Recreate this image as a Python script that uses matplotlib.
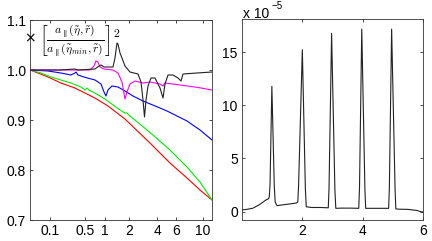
import numpy as np
import matplotlib
matplotlib.use("Agg")
import matplotlib.pyplot as plt

plt.rcParams['font.family'] = ['Liberation Sans', 'DejaVu Sans']
plt.rcParams['mathtext.fontset'] = 'cm'

# ---------------- left panel data ----------------
black_x = [0.027, 0.171, 0.337, 0.381, 0.718, 0.823, 0.879, 0.969, 1.279, 1.357, 1.439, 1.481, 1.568,
           1.659, 1.803, 2.062, 2.536, 2.733, 2.870, 2.977, 3.086, 3.237, 3.473, 3.807, 4.258, 4.548,
           4.749, 5.063, 5.620, 6.223, 6.606, 6.871, 8.962, 11.69]
black_y = [1.000, 1.000, 1.002, 1.000, 1.002, 1.008, 1.010, 1.006, 1.006, 1.024, 1.054, 1.052, 1.034,
           1.024, 1.008, 0.996, 0.992, 0.976, 0.940, 0.906, 0.940, 0.968, 0.984, 0.984, 0.964, 0.944,
           0.972, 0.990, 0.990, 0.984, 0.978, 0.992, 0.994, 0.996]

magenta_x = [0.027, 0.337, 0.602, 0.694, 0.743, 0.796, 0.850, 0.969, 1.279, 1.481, 1.659, 1.803, 1.904,
             2.062, 2.350, 2.870, 3.392, 4.258, 4.548, 4.749, 6.476, 8.637, 11.69]
magenta_y = [1.000, 1.000, 1.000, 1.008, 1.018, 1.016, 1.006, 1.002, 1.000, 0.994, 0.976, 0.942, 0.956,
             0.972, 0.978, 0.974, 0.976, 0.972, 0.968, 0.974, 0.970, 0.966, 0.960]

blue_x = [0.027, 0.090, 0.179, 0.284, 0.337, 0.351, 0.381, 0.482, 0.718, 0.879, 0.969, 1.032, 1.099,
          1.241, 1.481, 1.803, 2.231, 2.870, 4.258, 4.956, 7.426, 9.465, 11.69]
blue_y = [1.000, 0.998, 0.994, 0.990, 0.994, 0.996, 0.990, 0.986, 0.980, 0.972, 0.956, 0.948, 0.960,
          0.968, 0.966, 0.958, 0.948, 0.938, 0.924, 0.918, 0.898, 0.880, 0.860]

green_x = [0.027, 0.0586, 0.1066, 0.179, 0.284, 0.429, 0.500, 0.540, 0.581, 0.718, 1.000, 1.568, 1.803,
           1.904, 2.062, 2.350, 3.637, 5.280, 7.426, 9.465, 11.69]
green_y = [1.000, 0.994, 0.986, 0.980, 0.974, 0.966, 0.960, 0.964, 0.960, 0.954, 0.942, 0.920, 0.914,
           0.914, 0.908, 0.900, 0.870, 0.840, 0.806, 0.776, 0.740]

red_x = [0.027, 0.0481, 0.090, 0.179, 0.337, 0.500, 0.718, 1.099, 1.803, 3.392, 5.280, 7.426, 9.465, 11.69]
red_y = [1.000, 0.994, 0.986, 0.974, 0.964, 0.954, 0.944, 0.928, 0.902, 0.854, 0.814, 0.784, 0.760, 0.740]

left_xticks = [0.1, 0.5, 1, 2, 4, 6, 10]
left_xticklabels = ['0.1', '0.5', '1', '2', '4', '6', '10']
left_yticks = [0.7, 0.8, 0.9, 1.0, 1.1]

# ---------------- right panel data (units of 1e-5) ----------------
right_x = [0.0, 0.15, 0.35, 0.57, 0.80, 0.88, 0.905, 0.93, 0.99, 1.07, 1.10, 1.16, 1.35, 1.60, 1.80,
           1.85, 1.875, 2.00, 2.10, 2.13, 2.30, 2.60, 2.86, 2.885, 2.97, 3.08, 3.11, 3.30, 3.60, 3.87,
           3.895, 3.97, 4.075, 4.10, 4.30, 4.60, 4.86, 4.885, 4.96, 5.075, 5.10, 5.20, 5.50, 5.80,
           5.90, 6.0]
right_y = [0.15, 0.20, 0.30, 0.63, 1.10, 1.20, 1.40, 2.60, 11.8, 2.40, 0.90, 0.55, 0.63, 0.72, 0.80,
           0.90, 2.40, 15.25, 2.20, 0.45, 0.38, 0.38, 0.35, 2.20, 16.8, 2.00, 0.30, 0.32, 0.32, 0.30,
           2.20, 17.2, 2.00, 0.30, 0.30, 0.30, 0.30, 2.20, 17.2, 2.00, 0.25, 0.22, 0.20, 0.10,
           0.00, -0.05]
right_xticks = [2, 4, 6]
right_yticks = [0, 5, 10, 15]

W, H = 432, 241
fig = plt.figure(figsize=(W / 100, H / 100), dpi=100)

ax1 = fig.add_axes([30 / W, 21 / H, 182 / W, 200 / H])
ax2 = fig.add_axes([242 / W, 21 / H, 181 / W, 201 / H])

ax1.set_xscale('function', functions=(lambda v: np.power(np.clip(v, 0, None), 0.25),
                                      lambda u: np.power(np.clip(u, 0, None), 4)))
lw = 0.8
ax1.plot(red_x, red_y, color='#ff0000', lw=lw)
ax1.plot(green_x, green_y, color='#00ee00', lw=lw)
ax1.plot(blue_x, blue_y, color='#0000ff', lw=lw)
ax1.plot(magenta_x, magenta_y, color='#ff00ff', lw=lw)
ax1.plot(black_x, black_y, color='#222222', lw=lw)
ax1.set_xlim(0.0269, 11.69)
ax1.set_ylim(0.7, 1.1)
ax1.set_xticks(left_xticks)
ax1.set_xticklabels(left_xticklabels)
ax1.set_yticks(left_yticks)
ax1.set_yticklabels(['%.1f' % v for v in left_yticks])
ax1.minorticks_off()

ax1.text(0.27, 0.895,
         r'$\left[\frac{a_\parallel(\tilde{\eta},\tilde{r})}{a_\parallel(\tilde{\eta}_{min},\tilde{r})}\right]^2$',
         transform=ax1.transAxes, ha='center', va='center', fontsize=12)
ax1.text(0.0, 0.91, '×', transform=ax1.transAxes, ha='center', va='center', fontsize=10,
         family=['DejaVu Sans'])

ax2.plot(right_x, right_y, color='#222222', lw=lw)
ax2.set_xlim(0, 6)
ax2.set_ylim(-0.8, 18.15)
ax2.set_xticks(right_xticks)
ax2.set_yticks(right_yticks)
fig.text(243 / W, 1 - 18 / H, 'x 10', ha='left', va='baseline', fontsize=10)
fig.text(272 / W, 1 - 9 / H, '\u22125', ha='left', va='baseline', fontsize=7)

for ax in (ax1, ax2):
    ax.tick_params(direction='in', length=2.5, width=0.5, top=True, right=True,
                   labelsize=10, pad=3, colors='black')
    for s in ax.spines.values():
        s.set_linewidth(0.6)
        s.set_color('#333333')

fig.savefig('out.png', dpi=100)
